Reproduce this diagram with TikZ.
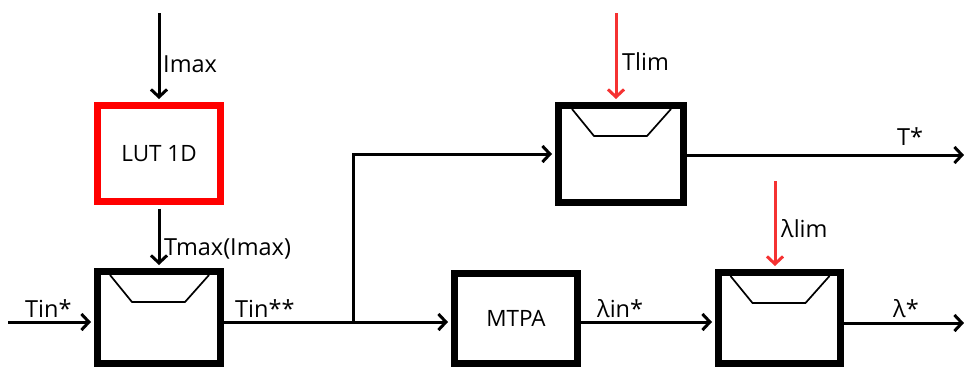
\documentclass[tikz,border=0pt]{standalone}
\usepackage{fontspec}
\setmainfont{Open Sans}
\usetikzlibrary{arrows.meta}
\definecolor{lutred}{RGB}{255,0,0}
\definecolor{limred}{RGB}{245,50,50}
\newcommand\satsym[1]{\draw[satline] ([shift={(-49,7)}]#1.north) -- ++(22,27) -- ++(53,0) -- ++(24,-27);}
\begin{document}
\begin{tikzpicture}[x=1pt,y=-1pt,
  box/.style={draw=black, line width=7pt, inner sep=0pt, font=\fontsize{22.5}{26}\selectfont},
  lutbox/.style={box, draw=lutred},
  conn/.style={line width=3pt, shorten >=3pt, -{Straight Barb[length=7.5pt,width=16pt]}},
  plain/.style={line width=3pt},
  lim/.style={conn, draw=limred},
  satline/.style={line width=1.7pt},
  lbl/.style={anchor=base west, inner sep=0pt, font=\fontsize{23.5}{27}\selectfont}]
\useasboundingbox (0,0) rectangle (964,370);
% blocks
\node[lutbox, minimum width=123pt, minimum height=96pt] (lut) at (159,153.5) {LUT 1D};
\node[box, minimum width=123pt, minimum height=92pt] (satA) at (159,317.5) {};
\node[box, minimum width=125pt, minimum height=97pt] (satT) at (621,154) {};
\node[box, minimum width=123pt, minimum height=90pt] (mtpa) at (516,318.5) {MTPA};
\node[box, minimum width=122pt, minimum height=91pt] (satL) at (779.5,318) {};
\satsym{satA}
\satsym{satT}
\satsym{satL}
% free ends
\coordinate (imaxs) at (159,13);
\coordinate (tins) at (8,322);
\coordinate (br) at (353,322);
\coordinate (tlims) at (616,13);
\coordinate (llims) at (775,181);
\coordinate (tout) at (967,155);
\coordinate (lout) at (967,323);
% connectors
\draw[conn] (imaxs) -- (lut.north);
\draw[conn, shorten <=3.5pt] (lut.south) -- (satA.north);
\draw[conn] (tins) -- (tins -| satA.west);
\draw[plain] (satA.east |- br) -- (br);
\draw[conn] (br) -- (br -| mtpa.west);
\draw[conn] (br) |- (satT.west);
\draw[conn] (mtpa.east |- br) -- (br -| satL.west);
\draw[conn] (satT.east |- tout) -- (tout);
\draw[conn] (satL.east |- lout) -- (lout);
\draw[lim] (tlims) -- (tlims |- satT.north);
\draw[lim] (llims) -- (llims |- satL.north);
% labels
\node[lbl] (limax) at (163,72) {Imax};
\node[lbl] (ltmax) at (164,255) {Tmax(Imax)};
\node[lbl] (ltin) at (25,317) {Tin*};
\node[lbl] (ltinn) at (235,317) {Tin**};
\node[lbl] (ltlim) at (622,70) {Tlim};
\node[lbl] (lts) at (897,145) {T*};
\node[lbl] (lllim) at (781,237) {λlim};
\node[lbl] (llin) at (597,317) {λin*};
\node[lbl] (lls) at (893,317) {λ*};
\end{tikzpicture}
\end{document}
